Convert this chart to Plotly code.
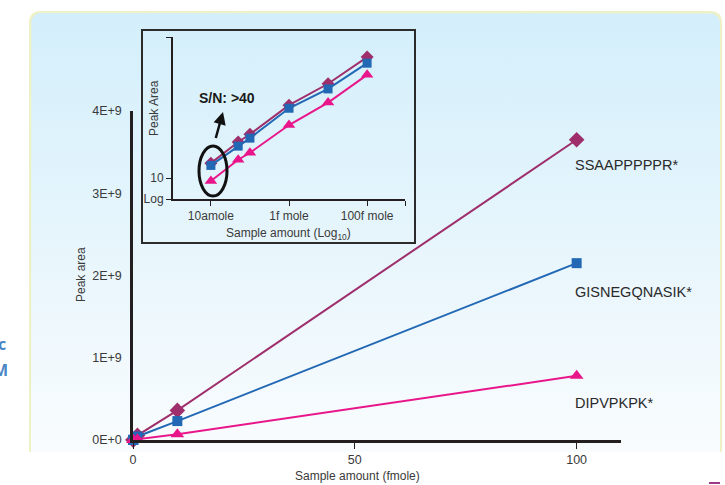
import numpy as np
import plotly.graph_objects as go

# ---------------- data ----------------
sample_fmole = [0.01, 0.05, 0.1, 1, 10, 100]
ssaap = [3.65e5, 2.3e6, 4.5e6, 5.6e7, 3.6e8, 3.65e9]
gisne = [3.0e5, 1.6e6, 3.2e6, 4.3e7, 2.3e8, 2.15e9]
dipvp = [7.8e4, 4.9e5, 9.0e5, 1.0e7, 7.0e7, 7.8e8]
series_names = ["SSAAPPPPPR*", "GISNEGQNASIK*", "DIPVPKPK*"]

y_tickvals = [0, 1e9, 2e9, 3e9, 4e9]
y_ticktext = ["0E+0", "1E+9", "2E+9", "3E+9", "4E+9"]
x_tickvals = [0, 50, 100]
inset_x_tickvals = [0.01, 1, 100]
inset_x_ticktext = ["10amole", "1f mole", "100f mole"]

W, H = 725, 485
PURPLE = "#9e2f6c"
BLUE = "#2268b4"
PINK = "#e8168a"
INK = "#231f20"
TXT = "#3a3a3a"
NARROW = "Liberation Sans, Arial, sans-serif"
SANS = "Liberation Sans, Arial, sans-serif"


def px(x):
    return x / W


def py(y):
    return 1 - y / H


fig = go.Figure()

# ---------------- background panel (rounded, gradient) ----------------
L, R, T, B, rad = 31, 720, 13, 452, 10
t = np.linspace(0, np.pi / 2, 12)
xs = [L, L]
ys = [B, T + rad]
xs += list(L + rad - rad * np.cos(t))
ys += list(T + rad - rad * np.sin(t))
xs += list(R - rad + rad * np.sin(t))
ys += list(T + rad - rad * np.cos(t))
xs += [R, R, L]
ys += [T + rad, B, B]
fig.add_trace(go.Scatter(
    x=xs, y=[H - v for v in ys], xaxis="x", yaxis="y", mode="lines",
    fill="toself", line=dict(width=0, color="rgba(0,0,0,0)"),
    fillgradient=dict(type="vertical",
                      colorscale=[[0, "#f9fcfe"], [0.5, "#e6f5fc"], [1, "#d3effb"]]),
    hoverinfo="skip", showlegend=False))

# ---------------- main linear chart ----------------
styles = [
    (ssaap, PURPLE, "diamond", 12),
    (gisne, BLUE, "square", 10),
    (dipvp, PINK, "triangle-up", 12),
]
for (vals, col, sym, sz), name in zip(styles, series_names):
    fig.add_trace(go.Scatter(
        x=sample_fmole, y=vals, xaxis="x2", yaxis="y2", mode="lines+markers",
        line=dict(color=col, width=2), marker=dict(symbol=sym, size=sz, color=col),
        cliponaxis=False, showlegend=False, name=name))

# ---------------- inset log-log chart ----------------
inset_sizes = [10, 9, 11]
for (vals, col, sym, _), sz, name in zip(styles, inset_sizes, series_names):
    fig.add_trace(go.Scatter(
        x=sample_fmole, y=vals, xaxis="x3", yaxis="y3", mode="lines+markers",
        line=dict(color=col, width=2), marker=dict(symbol=sym, size=sz, color=col),
        cliponaxis=False, showlegend=False, name=name))

tickfont = dict(family=NARROW, size=12.5, color=TXT)

fig.update_layout(
    width=W, height=H, margin=dict(l=0, r=0, t=0, b=0, pad=0, autoexpand=False),
    autosize=False, showlegend=False,
    paper_bgcolor="white", plot_bgcolor="rgba(0,0,0,0)",
    xaxis=dict(domain=[0, 1], range=[0, W], visible=False, fixedrange=True),
    yaxis=dict(domain=[0, 1], range=[0, H], visible=False, fixedrange=True),
    xaxis2=dict(domain=[px(133), px(621)], range=[0, 110], anchor="y2",
                showline=True, linewidth=2.5, linecolor=INK, showgrid=False,
                zeroline=False, tickvals=x_tickvals, ticks="outside", ticklen=6,
                tickwidth=1.2, tickcolor=INK, tickfont=tickfont),
    yaxis2=dict(domain=[py(440), py(111)], range=[0, 4e9], anchor="x2",
                showline=True, linewidth=2.5, linecolor=INK, showgrid=False,
                zeroline=False, tickvals=y_tickvals, ticktext=y_ticktext,
                ticks="outside", ticklen=6, tickcolor="rgba(0,0,0,0)",
                tickfont=tickfont),
    xaxis3=dict(domain=[px(173), px(405)], type="log", range=[-2.97, 2.97],
                anchor="y3", showline=True, linewidth=2, linecolor=INK,
                showgrid=False, zeroline=False,
                tickvals=inset_x_tickvals + [10 ** 2.97],
                ticktext=inset_x_ticktext + [" "],
                ticks="outside", ticklen=5, tickwidth=1.2, tickcolor=INK,
                tickfont=dict(family=NARROW, size=12, color=TXT)),
    yaxis3=dict(domain=[py(199), py(37)], type="log", range=[4.21, 10.32],
                anchor="x3", showline=True, linewidth=2, linecolor=INK,
                showgrid=False, zeroline=False,
                tickvals=[10 ** 4.21, 1e5, 10 ** 10.32],
                ticktext=["Log", "10", " "],
                ticks="outside", ticklen=5, tickwidth=1.2, tickcolor=INK,
                tickfont=dict(family=NARROW, size=12, color=TXT)),
)

# border of the panel (top, left, right)
fig.add_shape(type="path", xref="x", yref="y",
              path=(f"M {L},{H - B} L {L},{H - T - rad} Q {L},{H - T} {L + rad},{H - T} "
                    f"L {R - rad},{H - T} Q {R},{H - T} {R},{H - T - rad} L {R},{H - B}"),
              line=dict(color="#eef0c6", width=4), layer="below")

# inset frame
fig.add_shape(type="rect", xref="paper", yref="paper",
              x0=px(142), x1=px(415), y0=py(243), y1=py(30),
              line=dict(color="#2b2b2b", width=2))
# ellipse around lowest points
fig.add_shape(type="circle", xref="paper", yref="paper",
              x0=px(199), x1=px(227), y0=py(196), y1=py(146),
              line=dict(color="#111", width=3))


def note(x, y, text, size, family=NARROW, color=TXT, xanchor="center", angle=0):
    return dict(x=px(x), y=py(y), xref="paper", yref="paper", text=text,
                showarrow=False, xanchor=xanchor, yanchor="middle",
                textangle=angle, font=dict(family=family, size=size, color=color))


ann = []
for name, yy in zip(series_names, [165, 292, 403]):
    ann.append(note(573, yy, name, 14.5, SANS, "#2a2a2a", xanchor="left"))
ann.append(note(357, 476, "Sample amount (fmole)", 12))
ann.append(note(81, 275, "Peak area", 12, angle=-90))
ann.append(note(288, 234, "Sample amount (Log<sub>10</sub>)", 12))
ann.append(note(154, 108, "Peak Area", 12, angle=-90))
ann.append(note(227, 98, "<b>S/N: &gt;40</b>", 14, SANS, "#1a1a1a"))
ann.append(dict(x=px(223), y=py(112), xref="paper", yref="paper", text=" ",
                showarrow=True, ax=-10, ay=36, arrowhead=2, arrowsize=1,
                arrowwidth=2.5, arrowcolor="#111", standoff=0))
ann.append(note(8, 344, "<b>c</b>", 16, "Open Sans, sans-serif", "#4a86c4", xanchor="right"))
ann.append(note(10, 370, "<b>M</b>", 16, "Open Sans, sans-serif", "#4a86c4", xanchor="right"))
fig.update_layout(annotations=ann)

fig.add_shape(type="line", xref="paper", yref="paper",
              x0=px(709), x1=px(720), y0=py(483), y1=py(483),
              line=dict(color="#9b3a86", width=2))

fig.write_html("out.html",
               post_script="document.body.style.margin='0';"
                           "document.documentElement.style.overflow='hidden';"
                           "document.body.style.overflow='hidden';")
